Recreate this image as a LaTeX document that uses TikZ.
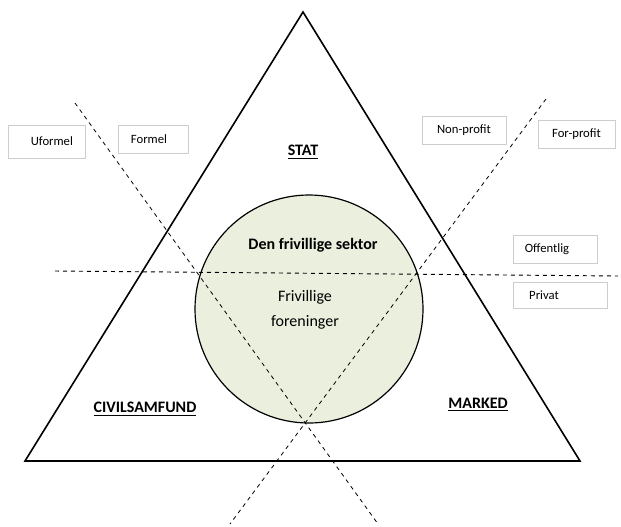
\documentclass[tikz,border=0pt]{standalone}
\usepackage{fontspec}
\setmainfont{Carlito}
\usepackage{tikz}

\definecolor{sectorfill}{RGB}{235,239,221}
\definecolor{tagline}{RGB}{205,205,205}

\begin{document}
\begin{tikzpicture}[x=0.75pt,y=0.75pt,yscale=-1,xscale=1,
    tagbox/.style={draw=tagline, line width=0.6pt, inner sep=0pt, font=\fontsize{9.5}{11}\selectfont},
    sectorlabel/.style={font=\bfseries\fontsize{12}{14}\selectfont},
    cutline/.style={dashed, line width=0.6pt}]

\useasboundingbox (0,0) rectangle (621,526);

            %Shape: Circle
            \node [circle, draw, line width=0.9pt, fill=sectorfill, minimum size=228*0.75pt] (sector) at (309,309) {};
            %Shape: Triangle
            \coordinate (apex) at (303,12);
            \coordinate (left) at (25,461);
            \coordinate (right) at (580,461);
            \draw [line width=1.2pt, line join=miter] (apex) -- (left) -- (right) -- cycle;
            %Straight Lines
            \coordinate (h1) at (55,271);
            \coordinate (h2) at (618,276);
            \draw [cutline, line width=0.7pt] (h1) -- (h2);
            %Straight Lines
            \coordinate (d1) at (75,103);
            \coordinate (d2) at (378,524);
            \draw [cutline] (d1) -- (d2);
            %Straight Lines
            \coordinate (e1) at (546,99);
            \coordinate (e2) at (230,524);
            \draw [cutline] (e1) -- (e2);

            % Labels
            \node [sectorlabel] (stat) at (303,152) {\underline{STAT}};
            \node [sectorlabel] (civil) at (145,409) {\underline{CIVILSAMFUND}};
            \node [sectorlabel] (marked) at (478,405) {\underline{MARKED}};
            \node [sectorlabel] (frivsektor) at (313,245) {Den frivillige sektor};
            \node [align=center, font=\fontsize{12}{18.5}\selectfont] (foreninger) at (305,310) {Frivillige\\foreninger};

            % Boxes
            \node [tagbox, minimum width=77*0.75pt, minimum height=33*0.75pt] (uformel) at (46.5,141.5) {\hspace*{8pt}Uformel};
            \node [tagbox, minimum width=70*0.75pt, minimum height=28*0.75pt] (formel) at (153,139) {Formel\hspace*{6pt}};
            \node [tagbox, minimum width=84*0.75pt, minimum height=28*0.75pt] (nonprofit) at (464,130) {Non-profit};
            \node [tagbox, minimum width=77*0.75pt, minimum height=28*0.75pt] (forprofit) at (576.5,134) {For-profit};
            \node [tagbox, minimum width=84*0.75pt, minimum height=28*0.75pt] (offentlig) at (555,249) {Offentlig\hspace*{12pt}};
            \node [tagbox, minimum width=94*0.75pt, minimum height=26*0.75pt] (privat) at (560,295) {Privat\hspace*{24pt}};

\end{tikzpicture}
\end{document}
